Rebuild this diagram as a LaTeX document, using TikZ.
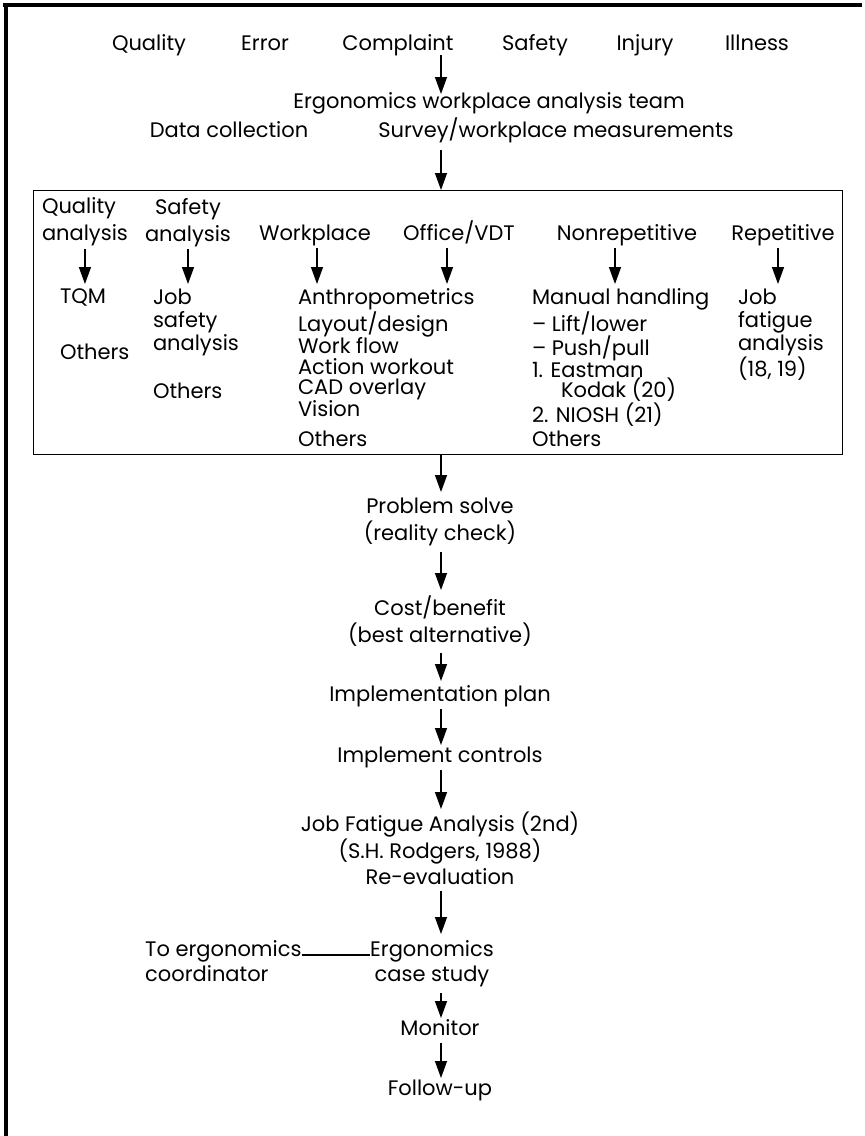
\documentclass[tikz,border=0pt]{standalone}
\usepackage{fontspec}
\setmainfont{Poppins}
\usetikzlibrary{arrows.meta}
\newcommand\fsA{\fontsize{21}{27}\selectfont}
\newcommand\fsB{\fontsize{21}{23}\selectfont}
\newcommand\fsC{\fontsize{21}{20.3}\selectfont}
\begin{document}
\begin{tikzpicture}[x=1pt,y=-1pt,
  lbl/.style={inner sep=0pt, outer sep=0pt, font=\fsA, text height=14pt, text depth=5pt},
  mlA/.style={inner sep=0pt, outer sep=0pt, font=\fsA},
  mlB/.style={inner sep=0pt, outer sep=0pt, font=\fsB, align=left, anchor=north west},
  mlC/.style={inner sep=0pt, outer sep=0pt, font=\fsC, align=left, anchor=north west},
  arr/.style={line width=1.4pt, -{Triangle[length=17pt,width=12pt]}},
  frame/.style={line width=3.5pt},
  boxst/.style={draw, line width=1.4pt, inner sep=0pt, anchor=north west}]
\useasboundingbox (0,0) rectangle (865,1136);
\fill[white] (0,0) rectangle (865,1136);
% outer frame (top and left only)
\draw[frame] (3,5) -- (862,5);
\draw[line width=4pt] (6,3.3) -- (6,1136);
\coordinate (axis) at (441,0);
% top row
\node[lbl, anchor=base] (quality) at (149,50) {Quality};
\node[lbl, anchor=base] (error) at (265,50) {Error};
\node[lbl, anchor=base] (complaint) at (398,50) {Complaint};
\node[lbl, anchor=base] (safety) at (535,50) {Safety};
\node[lbl, anchor=base] (injury) at (645,50) {Injury};
\node[lbl, anchor=base] (illness) at (757,50) {Illness};
\node[lbl, anchor=base] (team) at (489,108) {Ergonomics workplace analysis team};
\node[lbl, anchor=base] (data) at (229,137) {Data collection};
\node[lbl, anchor=base] (survey) at (556,137) {Survey/workplace measurements};
\draw[arr] (complaint.south -| axis) -- (team.north -| axis);
% big box
\node[boxst, minimum width=809pt, minimum height=264pt] (box) at (33,190) {};
\draw[arr, shorten <=8pt] (survey.south -| axis) -- (box.north -| axis);
% headers
\node[mlA, align=left, anchor=north west] (qa) at (42,198) {Quality\\analysis};
\node[mlA, align=center, anchor=north] (sa) at (188,198) {Safety\\analysis};
\node[lbl, anchor=base] (wp) at (315,240) {Workplace};
\node[lbl, anchor=base] (off) at (459,240) {Office/VDT};
\node[lbl, anchor=base] (nr) at (627,240) {Nonrepetitive};
\node[lbl, anchor=base] (rep) at (783,240) {Repetitive};
% contents
\node[mlB] (tqm) at (60,289) {TQM};
\node[mlB] (tqmo) at (60,344) {Others};
\node[mlB] (jsa) at (153,289) {Job\\safety\\analysis};
\node[mlB] (jsao) at (153,383) {Others};
\node[mlC] (wlist) at (298,289) {Anthropometrics\\Layout/design\\Work flow\\Action workout\\CAD overlay\\Vision};
\node[mlB] (wlo) at (298,431) {Others};
\node[mlC] (mh) at (532,289) {Manual handling\\-- Lift/lower\\-- Push/pull\\1. Eastman\\\hspace*{29pt}Kodak (20)\\2. NIOSH (21)};
\node[mlB] (mho) at (532,431) {Others};
\node[mlB] (jfa) at (738,289) {Job\\fatigue\\analysis\\(18, 19)};
% inner arrows
\draw[arr, shorten <=3pt, shorten >=5pt] (qa.south) -- (qa.south |- tqm.north);
\draw[arr, shorten <=3pt, shorten >=5pt] (sa.south) -- (sa.south |- jsa.north);
\draw[arr, shorten <=3pt, shorten >=5pt] ([xshift=2pt]wp.south) -- ([xshift=2pt]wp.south |- wlist.north);
\draw[arr, shorten <=3pt, shorten >=5pt] ([xshift=-12pt]off.south) -- ([xshift=-12pt]off.south |- wlist.north);
\draw[arr, shorten <=3pt, shorten >=5pt] ([xshift=-12pt]nr.south) -- ([xshift=-12pt]nr.south |- mh.north);
\draw[arr, shorten <=3pt, shorten >=5pt] ([xshift=-5pt]rep.south) -- ([xshift=-5pt]rep.south |- jfa.north);
% lower chain
\node[mlA, align=center, anchor=north] (ps) at (440,498) {Problem solve\\(reality check)};
\node[mlA, align=center, anchor=north] (cb) at (440,596) {Cost/benefit\\(best alternative)};
\node[lbl, anchor=base] (ip) at (440,701) {Implementation plan};
\node[lbl, anchor=base] (ic) at (440,762) {Implement controls};
\node[font=\fontsize{21}{26.5}\selectfont, inner sep=0pt, align=center, anchor=north] (jfa2) at (440,812) {Job Fatigue Analysis (2nd)\\(S.H. Rodgers, 1988)\\Re-evaluation};
\node[font=\fontsize{21}{25}\selectfont, inner sep=0pt, align=center, anchor=north] (ecs) at (432,940) {Ergonomics\\case study};
\node[font=\fontsize{21}{25}\selectfont, inner sep=0pt, align=left, anchor=north west] (toe) at (145,940) {To ergonomics\\coordinator};
\node[lbl, anchor=base] (mon) at (440,1035) {Monitor};
\node[lbl, anchor=base] (fu) at (440,1095) {Follow-up};
\draw[arr, shorten >=6pt] (box.south -| axis) -- (ps.north -| axis);
\draw[arr, shorten <=6pt, shorten >=6pt] (ps.south -| axis) -- (cb.north -| axis);
\draw[arr, shorten <=6pt, shorten >=6pt] (cb.south -| axis) -- (ip.north -| axis);
\draw[arr, shorten <=3pt, shorten >=3pt] (ip.south -| axis) -- (ic.north -| axis);
\draw[arr, shorten <=3pt, shorten >=3pt] (ic.south -| axis) -- (jfa2.north -| axis);
\draw[arr, shorten <=6pt, shorten >=6pt] (jfa2.south -| axis) -- (ecs.north -| axis);
\draw[arr, shorten <=6pt, shorten >=3pt] (ecs.south -| axis) -- (mon.north -| axis);
\draw[arr, shorten <=3pt, shorten >=3pt] (mon.south -| axis) -- (fu.north -| axis);
\draw[line width=1.4pt] ([yshift=-15pt]toe.north east) -- ([yshift=-15pt]ecs.north west);
\end{tikzpicture}
\end{document}
